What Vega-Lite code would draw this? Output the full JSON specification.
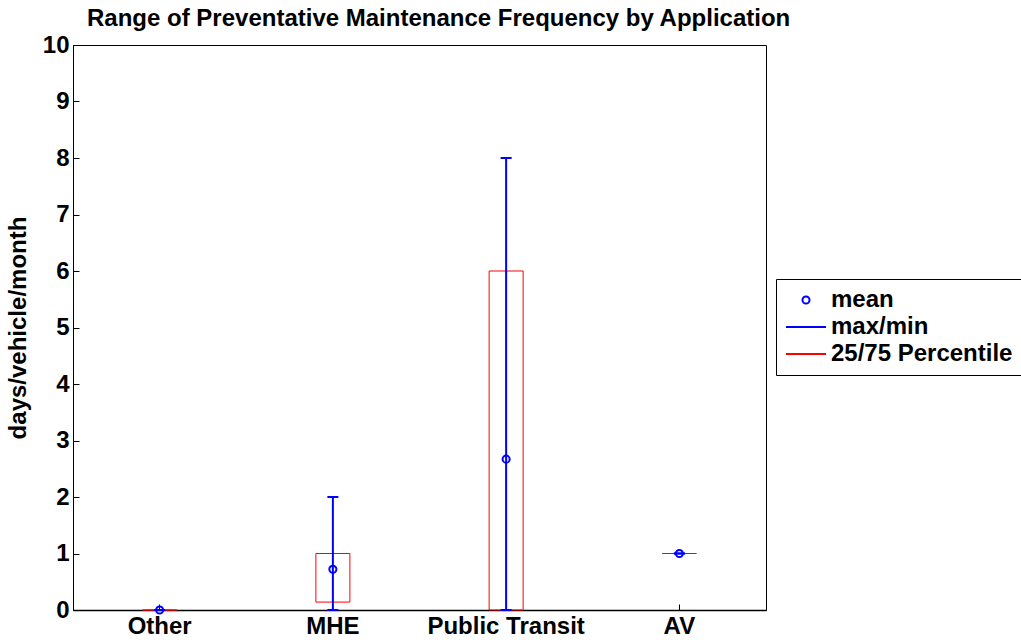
{
  "$schema": "https://vega.github.io/schema/vega-lite/v6.json",
  "width": 693,
  "height": 565,
  "autosize": "none",
  "padding": {"left": 73, "top": 45, "right": 255, "bottom": 33},
  "background": "white",
  "config": {
    "font": "Liberation Sans",
    "view": {"stroke": "black", "strokeWidth": 1},
    "axis": {
      "grid": false,
      "ticks": true,
      "domainColor": "black",
      "tickColor": "black",
      "labelColor": "black",
      "titleColor": "black",
      "labelFont": "Liberation Sans",
      "titleFont": "Liberation Sans",
      "labelFontWeight": "bold",
      "titleFontWeight": "bold",
      "labelFontSize": 24,
      "titleFontSize": 24
    }
  },
  "title": {
    "text": "Range of Preventative Maintenance Frequency by Application",
    "font": "Liberation Sans",
    "fontSize": 24,
    "fontWeight": "bold",
    "color": "black",
    "anchor": "start",
    "frame": "group",
    "dx": 14,
    "offset": 2
  },
  "data": {
    "values": [
      {"app": "Other", "mean": 0, "min": 0, "max": 0, "q25": 0, "q75": 0},
      {"app": "MHE", "mean": 0.72, "min": 0, "max": 2, "q25": 0.14, "q75": 1},
      {"app": "Public Transit", "mean": 2.67, "min": 0, "max": 8, "q25": 0, "q75": 6},
      {"app": "AV", "mean": 1, "min": 1, "max": 1, "q25": 1, "q75": 1}
    ]
  },
  "encoding": {
    "x": {
      "field": "app",
      "type": "nominal",
      "sort": ["Other", "MHE", "Public Transit", "AV"],
      "scale": {"paddingInner": 0, "paddingOuter": 0},
      "axis": {
        "title": null,
        "labelAngle": 0,
        "bandPosition": 0.5,
        "tickSize": -6,
        "tickWidth": 1,
        "labelPadding": 10,
        "domainWidth": 1.5
      }
    }
  },
  "layer": [
    {
      "mark": {"type": "bar", "width": 34, "fillOpacity": 0, "stroke": "red", "strokeWidth": 1},
      "encoding": {
        "y": {
          "field": "q25",
          "type": "quantitative",
          "scale": {"domain": [0, 10], "nice": false},
          "axis": {
            "title": "days/vehicle/month",
            "values": [0, 1, 2, 3, 4, 5, 6, 7, 8, 9, 10],
            "format": "d",
            "tickSize": -6,
            "tickWidth": 1,
            "labelPadding": 10,
            "titlePadding": 12
          }
        },
        "y2": {"field": "q75"}
      }
    },
    {
      "mark": {"type": "rule", "color": "blue", "strokeWidth": 2},
      "encoding": {
        "y": {"field": "min", "type": "quantitative"},
        "y2": {"field": "max"}
      }
    },
    {
      "mark": {"type": "tick", "color": "blue", "size": 11, "thickness": 2, "opacity": 1},
      "encoding": {"y": {"field": "max", "type": "quantitative"}}
    },
    {
      "mark": {"type": "tick", "color": "blue", "size": 11, "thickness": 2, "opacity": 1},
      "encoding": {"y": {"field": "min", "type": "quantitative"}}
    },
    {
      "mark": {"type": "point", "filled": false, "size": 50, "opacity": 1},
      "encoding": {
        "y": {"field": "mean", "type": "quantitative"},
        "color": {
          "datum": "mean",
          "scale": {"domain": ["mean", "max/min", "25/75 Percentile"], "range": ["blue", "blue", "red"]},
          "legend": {
            "title": null,
            "orient": "none",
            "legendX": 703,
            "legendY": 234,
            "strokeColor": "black",
            "fillColor": "white",
            "padding": 9,
            "labelFont": "Liberation Sans",
            "labelFontSize": 24,
            "labelFontWeight": "bold",
            "labelColor": "black",
            "labelLimit": 400,
            "labelOffset": 13,
            "symbolOffset": 9,
            "rowPadding": 3,
            "symbolOpacity": 1,
            "symbolSize": 50
          }
        },
        "shape": {
          "datum": "mean",
          "scale": {"domain": ["mean", "max/min", "25/75 Percentile"], "range": ["circle", "M-5.66,0L5.66,0", "M-5.66,0L5.66,0"]},
          "legend": {
            "title": null,
            "orient": "none",
            "legendX": 703,
            "legendY": 234
          }
        },
        "strokeWidth": {
          "datum": "mean",
          "scale": {"domain": ["mean", "max/min", "25/75 Percentile"], "range": [2, 2, 1]},
          "legend": {
            "title": null,
            "orient": "none",
            "legendX": 703,
            "legendY": 234
          }
        }
      }
    }
  ]
}
